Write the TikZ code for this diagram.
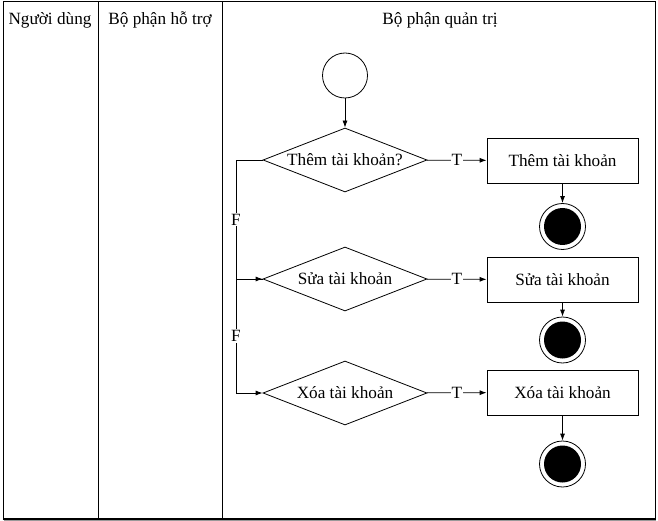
\documentclass[tikz,border=0pt]{standalone}
\usepackage{fontspec}
\setmainfont{Liberation Serif}
\usetikzlibrary{shapes.geometric,arrows.meta}
\begin{document}
\begin{tikzpicture}[x=1pt,y=-1pt,
  font=\fontsize{17.2}{20}\selectfont,
  line width=0.8pt,
  lane/.style={draw, line width=1.3pt},
  decision/.style={diamond, draw, aspect=2.56, minimum width=164pt, minimum height=64pt, inner sep=0pt},
  actbox/.style={rectangle, draw, minimum width=151pt, minimum height=45pt, inner sep=0pt},
  startnode/.style={circle, draw, minimum size=45pt, inner sep=0pt},
  endnode/.style={circle, draw, minimum size=46pt, inner sep=0pt,
     path picture={\fill[black] (path picture bounding box.center) circle (18.5pt);}},
  arr/.style={-{Latex[length=7pt,width=5pt]}},
  lbl/.style={fill=white, inner sep=1pt}]
\useasboundingbox (0,0) rectangle (658,521);
% frame and lanes
\draw[black!40, line width=1pt] (4,520.5) -- (656,520.5);
\draw[lane] (3.5,1.5) rectangle (655.5,519);
\draw[lane] (98.5,1.5) -- (98.5,519);
\draw[lane] (222.5,1.5) -- (222.5,519);
% headers
\node (h1) at (50,20) {Người dùng};
\node (h2) at (160,20) {Bộ phận hỗ trợ};
\node (h3) at (440,20) {Bộ phận quản trị};
% nodes
\node[startnode] (start) at (345,75.5) {};
\node[decision] (d1) at (345,160) {Thêm tài khoản?};
\node[decision] (d2) at (345,279) {Sửa tài khoản};
\node[decision] (d3) at (345,393) {Xóa tài khoản};
\node[actbox] (r1) at (562.5,160.5) {Thêm tài khoản};
\node[actbox] (r2) at (562.5,279.5) {Sửa tài khoản};
\node[actbox] (r3) at (562.5,392.5) {Xóa tài khoản};
\node[endnode] (e1) at (562.5,226.5) {};
\node[endnode] (e2) at (562.5,340) {};
\node[endnode] (e3) at (562.5,464) {};
\coordinate (c1) at (236,160);
\coordinate (c2) at (236,279);
\coordinate (c3) at (236,393);
% connectors
\draw[arr] (start) -- (d1);
\draw[arr] (d1) -- node[lbl] {T} (r1);
\draw[arr] (d2) -- node[lbl] {T} (r2);
\draw[arr] (d3) -- node[lbl] {T} (r3);
\draw[arr] (r1) -- (e1);
\draw[arr] (r2) -- (e2);
\draw[arr] (r3) -- (e3);
\draw[arr] (d1.west) -- (c1) -- node[lbl] {F} (c2) -- (d2.west);
\draw[arr] (d2.west) -- (c2) -- node[lbl] {F} (c3) -- (d3.west);
\end{tikzpicture}
\end{document}
